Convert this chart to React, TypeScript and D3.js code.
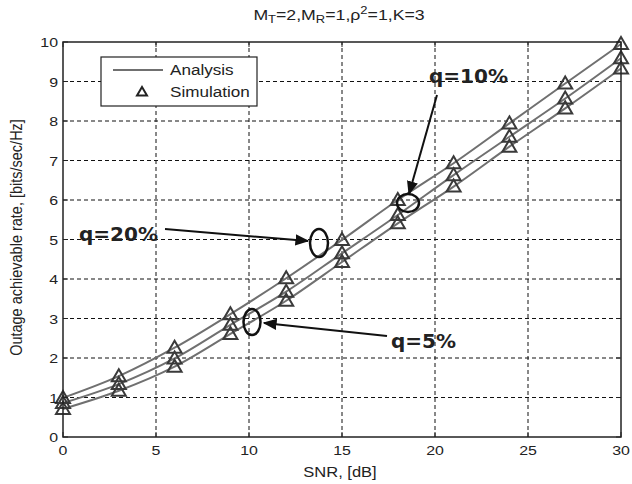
import React from "react";
import * as d3 from "d3";

// SNR points, dB
const snr = [0, 3, 6, 9, 12, 15, 18, 21, 24, 27, 30];
// outage achievable rate for each outage probability q
const rateQ20 = [0.99, 1.54, 2.26, 3.11, 4.02, 4.99, 6.0, 6.93, 7.94, 8.95, 9.95];
const rateQ10 = [0.86, 1.34, 1.99, 2.84, 3.68, 4.65, 5.62, 6.63, 7.6, 8.57, 9.59];
const rateQ5 = [0.71, 1.17, 1.78, 2.61, 3.45, 4.43, 5.41, 6.34, 7.35, 8.32, 9.33];
const xTicks = [0, 5, 10, 15, 20, 25, 30];
const yTicks = [0, 1, 2, 3, 4, 5, 6, 7, 8, 9, 10];

const W = 632;
const H = 484;
const margin = { top: 42, right: 11, bottom: 47, left: 63 };
// the reference looks a bit stretched sideways
const SX = 1.18;

const tri = (cx: number, cy: number, s = 7) =>
  `M${cx},${cy - s}L${cx + s},${cy + s * 0.72}L${cx - s},${cy + s * 0.72}Z`;

const font = "'Liberation Sans', Arial, sans-serif";
const bold = "'DejaVu Sans', Verdana, sans-serif";

function T({ x, y, size, anchor = "start", children }: any) {
  return (
    <text
      transform={`translate(${x},${y}) scale(${SX},1)`}
      fontFamily={font}
      fontSize={size}
      textAnchor={anchor}
      fill="#222"
    >
      {children}
    </text>
  );
}

export default function App() {
  const x = d3.scaleLinear().domain([0, 30]).range([margin.left, W - margin.right]);
  const y = d3.scaleLinear().domain([0, 10]).range([H - margin.bottom, margin.top]);

  const line = d3
    .line<number>()
    .x((d, i) => x(snr[i]))
    .y((d) => y(d))
    .curve(d3.curveMonotoneX);

  const series = [rateQ20, rateQ10, rateQ5];

  return (
    <svg width={W} height={H} style={{ position: "absolute", left: 0, top: 0, background: "#fff" }}>
      <defs>
        <marker id="arr" viewBox="0 0 10 10" refX="9" refY="5" markerWidth="7" markerHeight="7" orient="auto">
          <path d="M0,1L10,5L0,9Z" fill="#111" />
        </marker>
      </defs>
      {/* title */}
      <T x={339} y={20} size={15} anchor="middle">
        M<tspan fontSize={11} dy={3}>T</tspan>
        <tspan dy={-3}>=2,M</tspan>
        <tspan fontSize={11} dy={3}>R</tspan>
        <tspan dy={-3}>=1,ρ</tspan>
        <tspan fontSize={11} dy={-6}>2</tspan>
        <tspan dy={6}>=1,K=3</tspan>
      </T>

      {/* grid */}
      {xTicks.slice(1, -1).map((t) => (
        <line key={"gx" + t} x1={x(t)} x2={x(t)} y1={y(0)} y2={y(10)} stroke="#111" strokeDasharray="4,3" />
      ))}
      {yTicks.slice(1, -1).map((t) => (
        <line key={"gy" + t} x1={x(0)} x2={x(30)} y1={y(t)} y2={y(t)} stroke="#111" strokeDasharray="4,3" />
      ))}

      {/* curves */}
      {series.map((s, i) => (
        <path key={"l" + i} d={line(s) || ""} fill="none" stroke="#707070" strokeWidth={2} />
      ))}
      {series.map((s, i) =>
        s.map((v, j) => (
          <path key={`m${i}-${j}`} d={tri(x(snr[j]), y(v))} fill="none" stroke="#3a3a3a" strokeWidth={2} />
        ))
      )}

      {/* axes box */}
      <rect x={x(0)} y={y(10)} width={x(30) - x(0)} height={y(0) - y(10)} fill="none" stroke="#222" strokeWidth={1.5} />
      {xTicks.map((t) => (
        <g key={"xt" + t}>
          <line x1={x(t)} x2={x(t)} y1={y(0)} y2={y(0) - 5} stroke="#222" />
          <line x1={x(t)} x2={x(t)} y1={y(10)} y2={y(10) + 5} stroke="#222" />
          <T x={x(t)} y={y(0) + 18} size={13.5} anchor="middle">
            {t}
          </T>
        </g>
      ))}
      {yTicks.map((t) => (
        <g key={"yt" + t}>
          <line x1={x(0)} x2={x(0) + 5} y1={y(t)} y2={y(t)} stroke="#222" />
          <line x1={x(30)} x2={x(30) - 5} y1={y(t)} y2={y(t)} stroke="#222" />
          <T x={x(0) - 5} y={y(t) + 5} size={13.5} anchor="end">
            {t}
          </T>
        </g>
      ))}
      <T x={340} y={477} size={14} anchor="middle">
        SNR, [dB]
      </T>
      <text
        transform={`translate(22,${(y(0) + y(10)) / 2 - 2}) rotate(-90) scale(1,${SX})`}
        fontFamily={font}
        fontSize={14.5}
        textAnchor="middle"
        fill="#222"
      >
        Outage achievable rate, [bits/sec/Hz]
      </text>

      {/* legend */}
      <rect x={101} y={57} width={156} height={49} fill="#fff" stroke="#222" strokeWidth={1.2} />
      <line x1={113} x2={163} y1={70} y2={70} stroke="#707070" strokeWidth={2} />
      <T x={170} y={75} size={14.5}>Analysis</T>
      <path d={tri(142, 92, 5)} fill="none" stroke="#222" strokeWidth={2} />
      <T x={170} y={97} size={14.5}>Simulation</T>

      {/* annotations */}
      <text x={429} y={83} fontFamily={bold} fontWeight="bold" fontSize={20} fill="#222">q=10%</text>
      <line x1={437} y1={95} x2={409} y2={194} stroke="#111" strokeWidth={2} markerEnd="url(#arr)" />
      <ellipse cx={408} cy={203} rx={11} ry={9} fill="none" stroke="#111" strokeWidth={2.5} />

      <text x={79} y={241} fontFamily={bold} fontWeight="bold" fontSize={20} fill="#222">q=20%</text>
      <line x1={165} y1={229} x2={308} y2={241} stroke="#111" strokeWidth={2} markerEnd="url(#arr)" />
      <ellipse cx={319} cy={243} rx={9} ry={14} fill="none" stroke="#111" strokeWidth={2.5} />

      <text x={391} y={348} fontFamily={bold} fontWeight="bold" fontSize={20} fill="#222">q=5%</text>
      <line x1={387} y1={336} x2={264} y2={323} stroke="#111" strokeWidth={2} markerEnd="url(#arr)" />
      <ellipse cx={252} cy={322} rx={8.5} ry={13} fill="none" stroke="#111" strokeWidth={2.5} />
    </svg>
  );
}
